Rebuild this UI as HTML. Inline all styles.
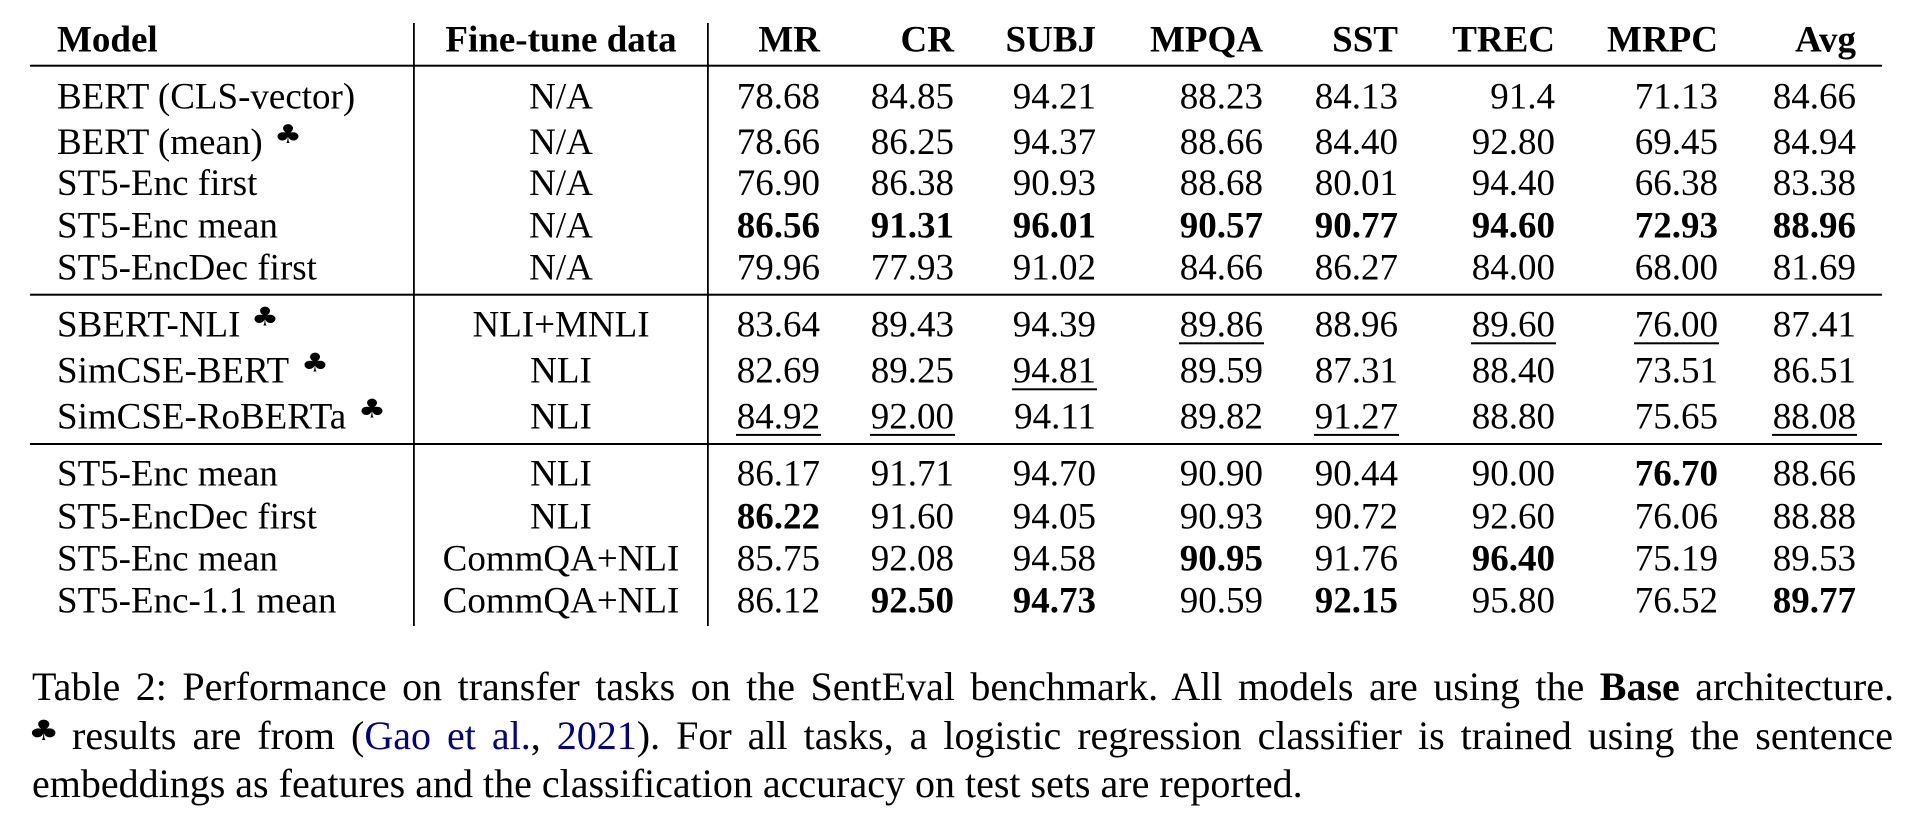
<!DOCTYPE html>
<html>
<head>
<meta charset="utf-8">
<style>
  html, body { margin:0; padding:0; background:#fff; }
  body { width:1914px; height:824px; position:relative; overflow:hidden; }
  svg { position:absolute; left:0; top:0; }
  .cap { position:absolute; font-family:"Liberation Serif", "DejaVu Serif", serif; font-size:40px; line-height:40px; color:#000; white-space:normal; }
  .j { text-align:justify; text-align-last:justify; }
  .cite { color:#000080; }
</style>
</head>
<body>
<svg width="1914" height="824" viewBox="0 0 1914 824" xmlns="http://www.w3.org/2000/svg">
  <!-- rules -->
  <rect x="30" y="64.7" width="1852" height="2" fill="#000"/>
  <rect x="30" y="293.7" width="1852" height="2" fill="#000"/>
  <rect x="30" y="443" width="1852" height="2" fill="#000"/>
  <rect x="413" y="23" width="1.8" height="603" fill="#000"/>
  <rect x="707" y="23" width="1.8" height="603" fill="#000"/>

  <g font-family="Liberation Serif, Times New Roman, serif" font-size="37" fill="#000">
    <!-- header -->
    <g font-weight="bold">
      <text x="57" y="51.5">Model</text>
      <text x="561" y="51.5" text-anchor="middle">Fine-tune data</text>
      <g text-anchor="end">
        <text x="820" y="51.5">MR</text>
        <text x="954" y="51.5">CR</text>
        <text x="1096" y="51.5">SUBJ</text>
        <text x="1263" y="51.5">MPQA</text>
        <text x="1398" y="51.5">SST</text>
        <text x="1555" y="51.5">TREC</text>
        <text x="1718" y="51.5">MRPC</text>
        <text x="1856" y="51.5">Avg</text>
      </g>
    </g>

    <!-- model names -->
    <text x="57" y="108.3">BERT (CLS-vector)</text>
    <text x="57" y="154">BERT (mean)</text>
    <text x="57" y="195">ST5-Enc first</text>
    <text x="57" y="237.3">ST5-Enc mean</text>
    <text x="57" y="279.3">ST5-EncDec first</text>
    <text x="57" y="336.7">SBERT-NLI</text>
    <text x="57" y="382.7">SimCSE-BERT</text>
    <text x="57" y="428.3">SimCSE-RoBERTa</text>
    <text x="57" y="485.7">ST5-Enc mean</text>
    <text x="57" y="528.3">ST5-EncDec first</text>
    <text x="57" y="570.5">ST5-Enc mean</text>
    <text x="57" y="612.3">ST5-Enc-1.1 mean</text>

    <!-- fine-tune data -->
    <g text-anchor="middle">
      <text x="561" y="108.3">N/A</text>
      <text x="561" y="154">N/A</text>
      <text x="561" y="195">N/A</text>
      <text x="561" y="237.3">N/A</text>
      <text x="561" y="279.3">N/A</text>
      <text x="561" y="336.7">NLI+MNLI</text>
      <text x="561" y="382.7">NLI</text>
      <text x="561" y="428.3">NLI</text>
      <text x="561" y="485.7">NLI</text>
      <text x="561" y="528.3">NLI</text>
      <text x="561" y="570.5">CommQA+NLI</text>
      <text x="561" y="612.3">CommQA+NLI</text>
    </g>

    <g text-anchor="end">
      <!-- row 1 -->
      <text x="820" y="108.3">78.68</text><text x="954" y="108.3">84.85</text><text x="1096" y="108.3">94.21</text><text x="1263" y="108.3">88.23</text><text x="1398" y="108.3">84.13</text><text x="1555" y="108.3">91.4</text><text x="1718" y="108.3">71.13</text><text x="1856" y="108.3">84.66</text>
      <!-- row 2 -->
      <text x="820" y="154">78.66</text><text x="954" y="154">86.25</text><text x="1096" y="154">94.37</text><text x="1263" y="154">88.66</text><text x="1398" y="154">84.40</text><text x="1555" y="154">92.80</text><text x="1718" y="154">69.45</text><text x="1856" y="154">84.94</text>
      <!-- row 3 -->
      <text x="820" y="195">76.90</text><text x="954" y="195">86.38</text><text x="1096" y="195">90.93</text><text x="1263" y="195">88.68</text><text x="1398" y="195">80.01</text><text x="1555" y="195">94.40</text><text x="1718" y="195">66.38</text><text x="1856" y="195">83.38</text>
      <!-- row 4 bold -->
      <g font-weight="bold">
      <text x="820" y="237.3">86.56</text><text x="954" y="237.3">91.31</text><text x="1096" y="237.3">96.01</text><text x="1263" y="237.3">90.57</text><text x="1398" y="237.3">90.77</text><text x="1555" y="237.3">94.60</text><text x="1718" y="237.3">72.93</text><text x="1856" y="237.3">88.96</text>
      </g>
      <!-- row 5 -->
      <text x="820" y="279.3">79.96</text><text x="954" y="279.3">77.93</text><text x="1096" y="279.3">91.02</text><text x="1263" y="279.3">84.66</text><text x="1398" y="279.3">86.27</text><text x="1555" y="279.3">84.00</text><text x="1718" y="279.3">68.00</text><text x="1856" y="279.3">81.69</text>
      <!-- row 6 -->
      <text x="820" y="336.7">83.64</text><text x="954" y="336.7">89.43</text><text x="1096" y="336.7">94.39</text><text x="1263" y="336.7">89.86</text><text x="1398" y="336.7">88.96</text><text x="1555" y="336.7">89.60</text><text x="1718" y="336.7">76.00</text><text x="1856" y="336.7">87.41</text>
      <!-- row 7 -->
      <text x="820" y="382.7">82.69</text><text x="954" y="382.7">89.25</text><text x="1096" y="382.7">94.81</text><text x="1263" y="382.7">89.59</text><text x="1398" y="382.7">87.31</text><text x="1555" y="382.7">88.40</text><text x="1718" y="382.7">73.51</text><text x="1856" y="382.7">86.51</text>
      <!-- row 8 -->
      <text x="820" y="428.3">84.92</text><text x="954" y="428.3">92.00</text><text x="1096" y="428.3">94.11</text><text x="1263" y="428.3">89.82</text><text x="1398" y="428.3">91.27</text><text x="1555" y="428.3">88.80</text><text x="1718" y="428.3">75.65</text><text x="1856" y="428.3">88.08</text>
      <!-- row 9 -->
      <text x="820" y="485.7">86.17</text><text x="954" y="485.7">91.71</text><text x="1096" y="485.7">94.70</text><text x="1263" y="485.7">90.90</text><text x="1398" y="485.7">90.44</text><text x="1555" y="485.7">90.00</text><text x="1718" y="485.7" font-weight="bold">76.70</text><text x="1856" y="485.7">88.66</text>
      <!-- row 10 -->
      <text x="820" y="528.3" font-weight="bold">86.22</text><text x="954" y="528.3">91.60</text><text x="1096" y="528.3">94.05</text><text x="1263" y="528.3">90.93</text><text x="1398" y="528.3">90.72</text><text x="1555" y="528.3">92.60</text><text x="1718" y="528.3">76.06</text><text x="1856" y="528.3">88.88</text>
      <!-- row 11 -->
      <text x="820" y="570.5">85.75</text><text x="954" y="570.5">92.08</text><text x="1096" y="570.5">94.58</text><text x="1263" y="570.5" font-weight="bold">90.95</text><text x="1398" y="570.5">91.76</text><text x="1555" y="570.5" font-weight="bold">96.40</text><text x="1718" y="570.5">75.19</text><text x="1856" y="570.5">89.53</text>
      <!-- row 12 -->
      <text x="820" y="612.3">86.12</text><text x="954" y="612.3" font-weight="bold">92.50</text><text x="1096" y="612.3" font-weight="bold">94.73</text><text x="1263" y="612.3">90.59</text><text x="1398" y="612.3" font-weight="bold">92.15</text><text x="1555" y="612.3">95.80</text><text x="1718" y="612.3">76.52</text><text x="1856" y="612.3" font-weight="bold">89.77</text>
    </g>
  </g>

  <!-- underlines -->
  <g fill="#000">
    <rect x="1179" y="342.3" width="85" height="2"/>
    <rect x="1471" y="342.3" width="85" height="2"/>
    <rect x="1634" y="342.3" width="85" height="2"/>
    <rect x="1012" y="388.3" width="85" height="2"/>
    <rect x="736" y="433.9" width="85" height="2"/>
    <rect x="870" y="433.9" width="85" height="2"/>
    <rect x="1314" y="433.9" width="85" height="2"/>
    <rect x="1772" y="433.9" width="85" height="2"/>
  </g>

  <!-- club symbols -->
  <g font-family="DejaVu Sans, sans-serif" font-size="26" fill="#000">
    <text transform="translate(274,143) scale(1.2,1)">♣</text>
    <text transform="translate(251,325.7) scale(1.2,1)">♣</text>
    <text transform="translate(301,371.7) scale(1.2,1)">♣</text>
    <text transform="translate(358,417.3) scale(1.2,1)">♣</text>
    <text transform="translate(28,740) scale(1.25,1)" font-size="28">♣</text>
  </g>
</svg>

<div class="cap j" style="left:32px; top:666.5px; width:1862px;">Table 2: Performance on transfer tasks on the SentEval benchmark. All models are using the <b>Base</b> architecture.</div>
<div class="cap j" style="left:72px; top:715.5px; width:1821px;">results are from (<span class="cite">Gao et al.</span>, <span class="cite">2021</span>). For all tasks, a logistic regression classifier is trained using the sentence</div>
<div class="cap" style="left:32px; top:763.5px; width:1862px;">embeddings as features and the classification accuracy on test sets are reported.</div>
</body>
</html>
